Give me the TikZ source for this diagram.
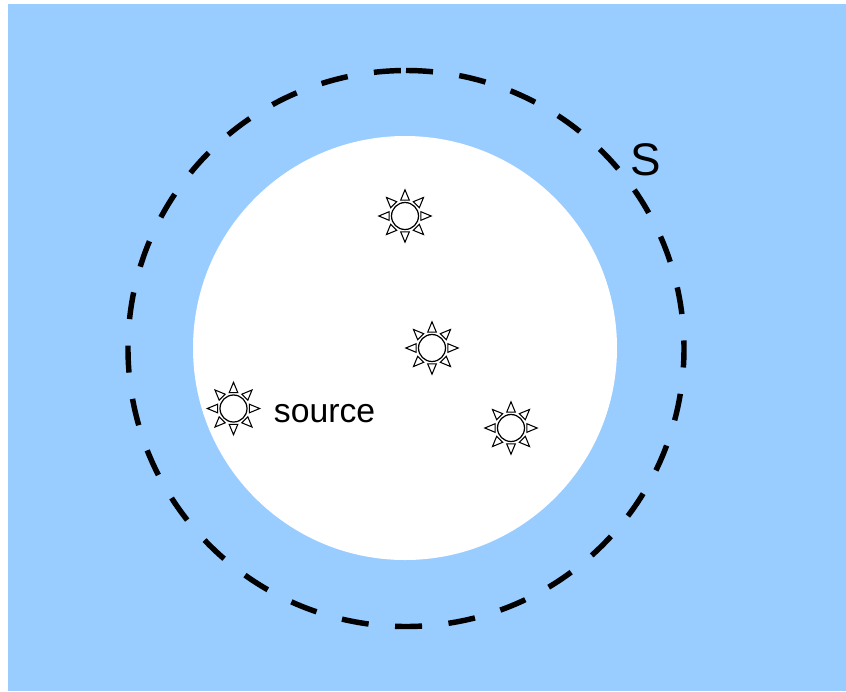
\documentclass[tikz,border=0pt]{standalone}
\usepackage{fontspec}
\setmainfont{Liberation Sans}
\definecolor{kek}{HTML}{99CCFF}
\tikzset{
  kor/.style={circle,draw,fill=white,line width=0.7pt,inner sep=0pt,minimum size=0.54cm},
  sugar/.style={draw,fill=white,line width=0.6pt,line join=miter},
  felulet/.style={line width=3.1pt,dash pattern=on 15.4pt off 15.1pt},
  felirat/.style={inner sep=0pt},
}
\newcommand{\sugarak}[1]{%
  \foreach \a in {0,45,...,315} {
    \draw[sugar] ($(#1)+(\a:26.2)$) -- ($(#1)+(\a+15:16.5)$) -- ($(#1)+(\a-15:16.5)$) -- cycle;
  }
}
\usetikzlibrary{calc,positioning}
\begin{document}
\begin{tikzpicture}[x=0.02cm,y=-0.02cm]
  \useasboundingbox (0,0) rectangle (846,691);
  \fill[kek] (8,4) rectangle (846,691);
  \fill[white] (405,348) circle (212);
  \draw[felulet] (406,70.5) arc[start angle=-90,end angle=270,radius=278];
  \node[kor] (f1) at (405,216) {};
  \node[kor] (f2) at (432,348) {};
  \node[kor] (f3) at (233.5,408.5) {};
  \node[kor] (f4) at (511,428) {};
  \sugarak{f1}
  \sugarak{f2}
  \sugarak{f3}
  \sugarak{f4}
  \node[felirat,font=\fontsize{19.2}{23}\selectfont,right=0.52cm of f3,yshift=-3pt] (forras) {source};
  \node[felirat,font=\fontsize{26}{30}\selectfont] (S) at (645.5,159.5) {S};
\end{tikzpicture}
\end{document}
